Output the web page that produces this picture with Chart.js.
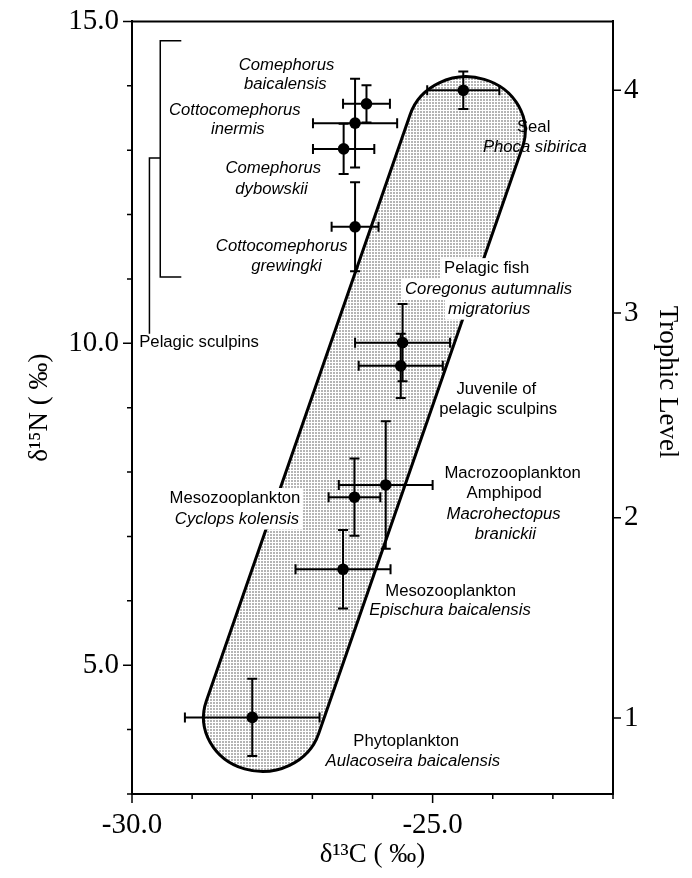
<!DOCTYPE html>
<html><head><meta charset="utf-8">
<script src="https://cdn.jsdelivr.net/npm/chart.js@4.4.1/dist/chart.umd.min.js"></script>
<style>html,body{margin:0;padding:0;background:#fff;}#wrap{width:692px;height:878px;position:relative;}</style>
</head><body><div id="wrap"><canvas id="c"></canvas></div>
<script>
// ---- data ----
const species = ['Comephorus baicalensis','Cottocomephorus inermis','Comephorus dybowskii','Cottocomephorus grewingki','Phoca sibirica','Coregonus autumnalis migratorius','Juvenile of pelagic sculpins','Macrohectopus branickii','Cyclops kolensis','Epischura baicalensis','Aulacoseira baicalensis'];
const d13C    = [-26.10,-26.29,-26.48,-26.29,-24.49,-25.50,-25.53,-25.78,-26.30,-26.49,-28.00];
const d15N    = [13.72, 13.42, 13.02, 11.81, 13.93, 10.01,  9.65,  7.80,  7.61,  6.49,  4.19];
const d13CErr = [0.39, 0.70, 0.51, 0.39, 0.60, 0.79, 0.70, 0.78, 0.43, 0.79, 1.12];
const d15NErr = [0.29, 0.69, 0.39, 0.69, 0.29, 0.60, 0.50, 0.99, 0.60, 0.61, 0.60];

const xTickValues = [-30, -25];
const xTickLabels = ['-30.0', '-25.0'];
const yTickValues = [5, 10, 15];
const yTickLabels = ['5.0', '10.0', '15.0'];
const trophicTickValues = [4.18, 7.29, 10.47, 13.93];
const trophicTickLabels = ['1', '2', '3', '4'];

// envelope (rounded band) end centres and half widths, in data units
const envelopeC = [-27.83, -24.44];
const envelopeN = [4.19, 13.30];
const envelopeHalfC = 0.98;
const envelopeHalfN = 0.84;

// "Pelagic sculpins" bracket, in data units
const bracketC = [-29.53, -29.18];   // vertical line, arm end
const bracketN = [14.70, 11.03];     // top arm, bottom arm
const stemC = -29.71;
const stemN = [12.88, 10.15];

// text annotations (anchor in data units)
const notes = [
 {t:'Comephorus', x:-27.43, y:14.32, it:true},
 {t:'baicalensis', x:-27.45, y:14.03, it:true},
 {t:'Cottocomephorus', x:-28.29, y:13.62, it:true},
 {t:'inermis', x:-28.24, y:13.33, it:true},
 {t:'Comephorus', x:-27.65, y:12.71, it:true},
 {t:'dybowskii', x:-27.68, y:12.39, it:true},
 {t:'Cottocomephorus', x:-27.51, y:11.50, it:true},
 {t:'grewingki', x:-27.43, y:11.19, it:true},
 {t:'Pelagic sculpins', x:-29.88, y:10.02, al:'left'},
 {t:'Seal', x:-23.32, y:13.36},
 {t:'Phoca sibirica', x:-23.30, y:13.05, it:true},
 {t:'Pelagic fish', x:-24.10, y:11.16, bg:true},
 {t:'Coregonus autumnalis', x:-24.07, y:10.84, it:true, bg:true},
 {t:'migratorius', x:-24.06, y:10.53, it:true, bg:true},
 {t:'Juvenile of', x:-23.94, y:9.29},
 {t:'pelagic sculpins', x:-23.91, y:8.98},
 {t:'Macrozooplankton', x:-23.67, y:7.98},
 {t:'Amphipod', x:-23.81, y:7.67},
 {t:'Macrohectopus', x:-23.82, y:7.35, it:true},
 {t:'branickii', x:-23.79, y:7.04, it:true},
 {t:'Mesozooplankton', x:-27.20, y:7.59, al:'right', bg:true},
 {t:'Cyclops kolensis', x:-27.22, y:7.27, it:true, al:'right', bg:true},
 {t:'Mesozooplankton', x:-24.70, y:6.15},
 {t:'Epischura baicalensis', x:-24.71, y:5.86, it:true},
 {t:'Phytoplankton', x:-25.44, y:3.81},
 {t:'Aulacoseira baicalensis', x:-25.33, y:3.50, it:true}
];

const SANS = "'Liberation Sans', Arial, sans-serif";
const SERIF = "'Liberation Serif', 'Times New Roman', serif";

function makePattern(ctx){
  const pc = document.createElement('canvas');
  pc.width = 3; pc.height = 3;
  const p = pc.getContext('2d');
  p.fillStyle = '#ffffff'; p.fillRect(0,0,3,3);
  p.fillStyle = '#b5b5b5'; p.fillRect(0,0,2,2);
  return ctx.createPattern(pc, 'repeat');
}

const drawPlugin = {
  id: 'drawPlugin',
  beforeDatasetsDraw(chart){
    const ctx = chart.ctx, xs = chart.scales.x, ys = chart.scales.y;
    // envelope
    const rx = Math.abs(xs.getPixelForValue(envelopeC[0] + envelopeHalfC) - xs.getPixelForValue(envelopeC[0]));
    const ry = Math.abs(ys.getPixelForValue(envelopeN[0] + envelopeHalfN) - ys.getPixelForValue(envelopeN[0]));
    const k = rx / ry;
    const p1 = {x: xs.getPixelForValue(envelopeC[0]), y: ys.getPixelForValue(envelopeN[0]) * k};
    const p2 = {x: xs.getPixelForValue(envelopeC[1]), y: ys.getPixelForValue(envelopeN[1]) * k};
    const a = Math.atan2(p2.y - p1.y, p2.x - p1.x);
    ctx.save();
    ctx.beginPath();
    ctx.save();
    ctx.scale(1, 1 / k);
    ctx.arc(p2.x, p2.y, rx, a - Math.PI / 2, a + Math.PI / 2);
    ctx.arc(p1.x, p1.y, rx, a + Math.PI / 2, a + 3 * Math.PI / 2);
    ctx.closePath();
    ctx.restore();
    ctx.fillStyle = makePattern(ctx);
    ctx.fill();
    ctx.lineWidth = 3;
    ctx.strokeStyle = '#000';
    ctx.stroke();
    ctx.restore();

    // bracket
    ctx.save();
    ctx.strokeStyle = '#000';
    ctx.lineWidth = 1.5;
    const bx = xs.getPixelForValue(bracketC[0]), bax = xs.getPixelForValue(bracketC[1]);
    const bt = ys.getPixelForValue(bracketN[0]), bb = ys.getPixelForValue(bracketN[1]);
    const sx = xs.getPixelForValue(stemC), st = ys.getPixelForValue(stemN[0]), sb = ys.getPixelForValue(stemN[1]);
    ctx.beginPath();
    ctx.moveTo(bax, bt); ctx.lineTo(bx, bt); ctx.lineTo(bx, bb); ctx.lineTo(bax, bb);
    ctx.moveTo(bx, st); ctx.lineTo(sx, st); ctx.lineTo(sx, sb);
    ctx.stroke();
    ctx.restore();

    // labels
    ctx.save();
    ctx.textBaseline = 'middle';
    notes.forEach(n => {
      ctx.font = (n.it ? 'italic ' : '') + '16.7px ' + SANS;
      const al = n.al || 'center';
      ctx.textAlign = al;
      const px = xs.getPixelForValue(n.x), py = ys.getPixelForValue(n.y);
      if (n.bg) {
        const w = ctx.measureText(n.t).width;
        let l = al === 'center' ? px - w / 2 : (al === 'right' ? px - w : px);
        ctx.fillStyle = '#fff';
        ctx.fillRect(l - 3, py - 10.5, w + 6, 21);
      }
      ctx.fillStyle = '#000';
      ctx.fillText(n.t, px, py);
    });
    ctx.restore();

    // error bars
    ctx.save();
    ctx.strokeStyle = '#000';
    ctx.lineWidth = 2;
    const cap = 5;
    for (let i = 0; i < d13C.length; i++) {
      const cx = xs.getPixelForValue(d13C[i]), cy = ys.getPixelForValue(d15N[i]);
      const xl = xs.getPixelForValue(d13C[i] - d13CErr[i]), xr = xs.getPixelForValue(d13C[i] + d13CErr[i]);
      const yt = ys.getPixelForValue(d15N[i] + d15NErr[i]), yb = ys.getPixelForValue(d15N[i] - d15NErr[i]);
      ctx.beginPath();
      ctx.moveTo(xl, cy); ctx.lineTo(xr, cy);
      ctx.moveTo(xl, cy - cap); ctx.lineTo(xl, cy + cap);
      ctx.moveTo(xr, cy - cap); ctx.lineTo(xr, cy + cap);
      ctx.moveTo(cx, yt); ctx.lineTo(cx, yb);
      ctx.moveTo(cx - cap, yt); ctx.lineTo(cx + cap, yt);
      ctx.moveTo(cx - cap, yb); ctx.lineTo(cx + cap, yb);
      ctx.stroke();
    }
    ctx.restore();
  },
  afterDraw(chart){
    const ctx = chart.ctx, ca = chart.chartArea;
    const xs = chart.scales.x, ys = chart.scales.y, y2 = chart.scales.y2;
    ctx.save();
    ctx.strokeStyle = '#000';
    // top frame line
    ctx.lineWidth = 2;
    ctx.beginPath(); ctx.moveTo(ca.left - 1, ca.top); ctx.lineTo(ca.right + 1, ca.top); ctx.stroke();
    // tick marks
    ctx.lineWidth = 1.5;
    ctx.beginPath();
    xs.ticks.forEach(t => {
      const px = xs.getPixelForValue(t.value);
      const len = xTickValues.includes(t.value) ? 9 : 5;
      ctx.moveTo(px, ca.bottom); ctx.lineTo(px, ca.bottom + len);
    });
    ys.ticks.forEach(t => {
      const py = ys.getPixelForValue(t.value);
      const len = yTickValues.includes(t.value) ? 9 : 5;
      ctx.moveTo(ca.left, py); ctx.lineTo(ca.left - len, py);
    });
    y2.ticks.forEach(t => {
      const py = y2.getPixelForValue(t.value);
      ctx.moveTo(ca.right, py); ctx.lineTo(ca.right + 8, py);
    });
    ctx.stroke();
    // right axis title
    ctx.translate(667, 382);
    ctx.rotate(Math.PI / 2);
    ctx.font = '27px ' + SERIF;
    ctx.fillStyle = '#000';
    ctx.textAlign = 'center';
    ctx.textBaseline = 'middle';
    ctx.fillText('Trophic Level', 0, 0);
    ctx.restore();
  }
};

const hiddenGrid = {display: true, drawOnChartArea: false, drawTicks: true, color: 'rgba(0,0,0,0)'};
const axisBorder = {display: true, color: '#000', width: 2};

new Chart(document.getElementById('c'), {
  type: 'scatter',
  data: {
    datasets: [{
      label: 'Species',
      data: d13C.map((v, i) => ({x: v, y: d15N[i]})),
      pointRadius: 5.8, pointHoverRadius: 5.8,
      backgroundColor: '#000', borderColor: '#000', borderWidth: 0
    }]
  },
  options: {
    responsive: true, maintainAspectRatio: false, animation: false,
    layout: {padding: {top: 21, left: 0, right: 0, bottom: 0}},
    plugins: {legend: {display: false}, tooltip: {enabled: false}},
    scales: {
      x: {
        type: 'linear', position: 'bottom', min: -30, max: -22,
        afterFit: s => { s.height = 84; },
        border: axisBorder,
        grid: Object.assign({}, hiddenGrid, {tickLength: 9}),
        ticks: {stepSize: 1, autoSkip: false, maxRotation: 0, minRotation: 0, padding: 5, color: '#000',
          font: {family: SERIF, size: 29},
          callback: v => { const i = xTickValues.indexOf(v); return i >= 0 ? xTickLabels[i] : ''; }},
        title: {display: true, text: 'δ¹³C ( ‰)', color: '#000', font: {family: SERIF, size: 27}, padding: {top: 0, bottom: 7}}
      },
      y: {
        type: 'linear', position: 'left', min: 3, max: 15,
        afterFit: s => { s.width = 132; },
        border: axisBorder,
        grid: Object.assign({}, hiddenGrid, {tickLength: 9}),
        ticks: {stepSize: 1, autoSkip: false, padding: 4, color: '#000',
          font: {family: SERIF, size: 29},
          callback: v => { const i = yTickValues.indexOf(v); return i >= 0 ? yTickLabels[i] : ''; }},
        title: {display: true, text: 'δ¹⁵N ( ‰)', color: '#000', font: {family: SERIF, size: 27}, padding: {top: 24, bottom: 0}}
      },
      y2: {
        type: 'linear', position: 'right', min: 3, max: 15,
        afterFit: s => { s.width = 79; },
        afterBuildTicks: s => { s.ticks = trophicTickValues.map(v => ({value: v})); },
        border: axisBorder,
        grid: Object.assign({}, hiddenGrid, {tickLength: 8}),
        ticks: {autoSkip: false, padding: 3, color: '#000',
          font: {family: SERIF, size: 29},
          callback: (v, i) => trophicTickLabels[i]}
      }
    }
  },
  plugins: [drawPlugin]
});
</script>
</body></html>
